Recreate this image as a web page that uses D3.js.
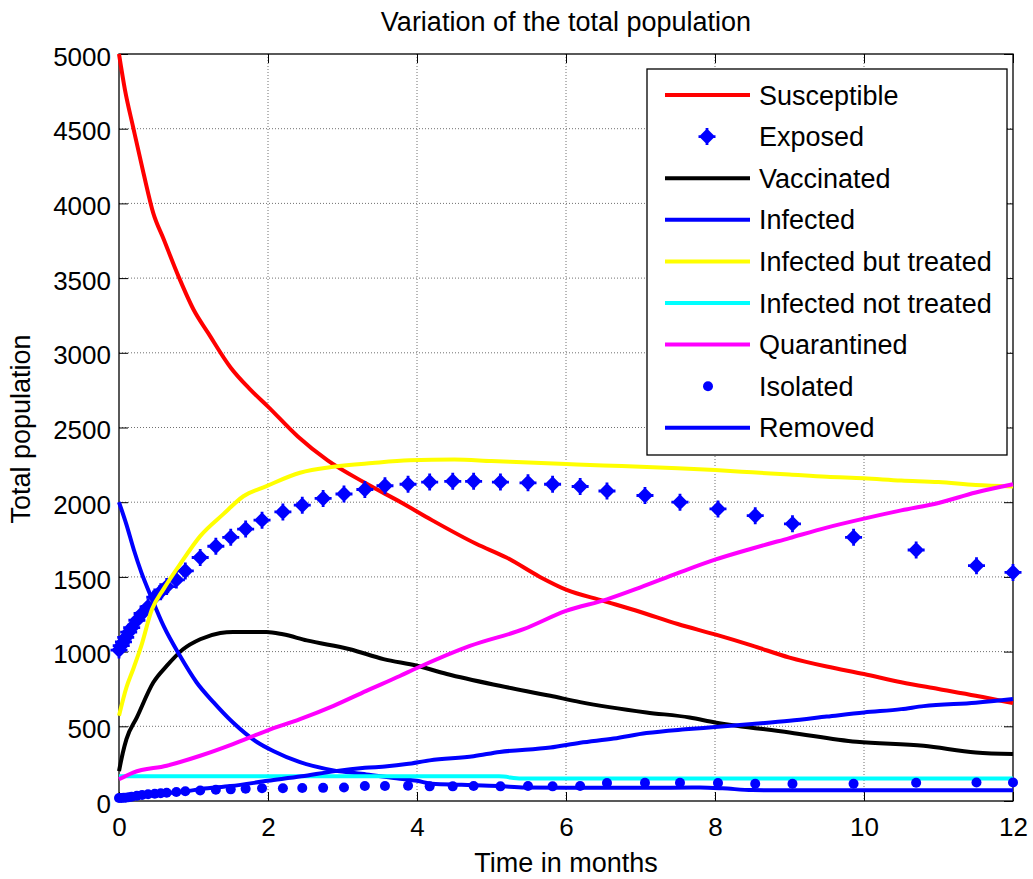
<!DOCTYPE html>
<html>
<head>
<meta charset="utf-8">
<script src="https://cdn.jsdelivr.net/npm/d3@7"></script>
<style>
  body { margin: 0; background: #fff; }
  svg { display: block; background: #fff; }
  text { font-family: Arial, "Liberation Sans", Helvetica, sans-serif; fill: #000; }
</style>
</head>
<body>
<svg id="chart" width="1033" height="879"></svg>
<script>
// ---- Data: [month, population] pairs per compartment ----
const susceptible = [[0,5000],[0.08,4760],[0.19,4510],[0.33,4200],[0.46,3935],[0.6,3760],[0.8,3510],[1.0,3290],[1.2,3130],[1.5,2900],[1.75,2760],[2.0,2640],[2.4,2440],[2.8,2280],[3.3,2130],[3.8,1995],[4.2,1880],[4.8,1720],[5.2,1630],[5.65,1500],[6.0,1415],[6.5,1340],[7.0,1265],[7.5,1185],[8.0,1115],[8.5,1040],[9.0,960],[9.5,900],[10.0,850],[10.5,795],[11.0,750],[11.5,705],[12.0,655]];

const vaccinated = [[0,200],[0.05,320],[0.1,414],[0.24,560],[0.46,793],[0.64,904],[0.86,1016],[1.09,1083],[1.36,1125],[1.53,1132],[1.98,1132],[2.2,1116],[2.52,1075],[3.1,1016],[3.55,950],[4.0,905],[4.4,850],[5.11,771],[5.79,704],[6.19,662],[7.08,593],[7.66,559],[8.0,526],[9.0,459],[9.9,396],[10.8,370],[11.5,325],[12,314]];

const infected = [[0,2000],[0.1,1850],[0.2,1680],[0.3,1530],[0.42,1380],[0.6,1170],[0.82,970],[1.04,795],[1.27,660],[1.53,525],[1.85,395],[2.07,335],[2.43,260],[2.88,205],[3.32,178],[3.77,148],[4.0,135],[4.2,115],[4.6,108],[5.1,100],[5.45,90],[6.0,88],[7.0,88],[7.8,90],[8.1,85],[8.5,73],[9.0,72],[10,72],[11,72],[12,72]];

const infectedTreated = [[0,570],[0.1,760],[0.19,882],[0.3,1040],[0.44,1280],[0.6,1420],[0.84,1600],[1.09,1773],[1.4,1920],[1.67,2040],[1.98,2108],[2.43,2197],[2.88,2237],[3.4,2262],[3.9,2280],[4.5,2285],[5.0,2275],[5.5,2265],[6.0,2255],[6.5,2245],[7.0,2238],[7.5,2228],[8.0,2215],[8.5,2200],[9.0,2185],[9.5,2170],[10,2160],[10.5,2145],[11,2135],[11.5,2115],[12,2105]];

const infectedNotTreated = [[0,165],[5.1,165],[5.4,150],[12,150]];

const quarantined = [[0,145],[0.19,190],[0.64,236],[1.09,303],[1.53,381],[1.98,470],[2.43,548],[2.88,637],[3.32,737],[3.77,837],[4.0,890],[4.71,1038],[5.43,1150],[6.0,1272],[6.55,1350],[7.0,1430],[7.5,1525],[8.0,1615],[8.5,1690],[9.0,1760],[9.5,1830],[10,1890],[10.5,1945],[11,1995],[11.5,2065],[12,2120]];

const removed = [[0,20],[0.3,35],[0.6,50],[0.9,65],[1.1,80],[1.5,100],[2.0,135],[2.45,165],[2.9,200],[3.3,222],[3.6,232],[3.86,247],[4.17,272],[4.76,300],[5.11,328],[5.79,358],[6.19,390],[6.64,418],[7.08,455],[7.6,480],[8.0,495],[8.5,515],[9.0,537],[9.5,565],[10.0,593],[10.5,615],[10.8,635],[11.5,658],[12,682]];

// Solver output times shared by the marker-only series
const solverMonths = [0,0.03,0.06,0.09,0.13,0.17,0.24,0.31,0.39,0.48,0.56,0.64,0.77,0.89,1.09,1.3,1.5,1.7,1.92,2.2,2.46,2.74,3.02,3.3,3.57,3.88,4.17,4.48,4.76,5.12,5.49,5.82,6.19,6.55,7.06,7.53,8.04,8.54,9.04,9.86,10.7,11.51,12];
const exposed = [1010,1040,1065,1095,1130,1160,1210,1255,1300,1365,1400,1435,1480,1540,1630,1705,1765,1820,1880,1935,1980,2025,2055,2085,2110,2120,2135,2140,2140,2135,2130,2120,2105,2075,2045,2000,1955,1910,1855,1765,1680,1575,1530];
const isolated = [20,20,22,22,25,28,35,40,45,48,52,55,60,65,70,75,78,82,85,85,87,88,90,100,100,102,98,98,100,98,100,98,100,120,122,122,120,115,116,115,122,124,124];

const xTicks = [0,2,4,6,8,10,12];
const yTicks = [0,500,1000,1500,2000,2500,3000,3500,4000,4500,5000];
const legendLabels = ["Susceptible","Exposed","Vaccinated","Infected","Infected but treated","Infected not treated","Quarantined","Isolated","Removed"];

// ---- Layout ----
const svg = d3.select("#chart");
const plotL = 119, plotR = 1013, plotT = 54, plotB = 801;
const x = d3.scaleLinear().domain([0, 12]).range([plotL, plotR]);
const y = d3.scaleLinear().domain([0, 5000]).range([plotB, plotT]);

// Grid (dotted)
const grid = svg.append("g").attr("stroke", "#707070").attr("stroke-width", 1).attr("stroke-dasharray", "1,2");
grid.selectAll(".gx").data(xTicks.slice(1, -1)).join("line")
  .attr("x1", d => x(d)).attr("x2", d => x(d)).attr("y1", plotT).attr("y2", plotB);
grid.selectAll(".gy").data(yTicks.slice(1, -1)).join("line")
  .attr("x1", plotL).attr("x2", plotR).attr("y1", d => y(d)).attr("y2", d => y(d));

// Axes with inward ticks
const tickLen = 9;
const fmt = d3.format("d");
const axL = svg.append("g").attr("transform", `translate(${plotL},0)`)
  .call(d3.axisLeft(y).tickValues(yTicks).tickFormat(fmt).tickSizeInner(-tickLen).tickSizeOuter(0).tickPadding(8));
const axB = svg.append("g").attr("transform", `translate(0,${plotB})`)
  .call(d3.axisBottom(x).tickValues(xTicks).tickFormat(fmt).tickSizeInner(-tickLen).tickSizeOuter(0).tickPadding(17));
const axR = svg.append("g").attr("transform", `translate(${plotR},0)`)
  .call(d3.axisRight(y).tickValues(yTicks).tickSizeInner(-tickLen).tickSizeOuter(0).tickFormat(""));
const axT = svg.append("g").attr("transform", `translate(0,${plotT})`)
  .call(d3.axisTop(x).tickValues(xTicks).tickSizeInner(-tickLen).tickSizeOuter(0).tickFormat(""));
[axL, axB, axR, axT].forEach(a => {
  a.select(".domain").remove();
  a.selectAll(".tick line").attr("stroke", "#000").attr("stroke-width", 1);
  a.selectAll("text").attr("font-size", 26).attr("fill", "#000")
    .attr("font-family", 'Arial, "Liberation Sans", Helvetica, sans-serif');
});
axL.selectAll("text").attr("dy", "0.43em");

svg.append("rect").attr("x", plotL).attr("y", plotT).attr("width", plotR - plotL).attr("height", plotB - plotT)
  .attr("fill", "none").attr("stroke", "#000").attr("stroke-width", 1.3);

// Titles
svg.append("text").attr("x", (plotL + plotR) / 2).attr("y", 31).attr("text-anchor", "middle")
  .attr("font-size", 27).text("Variation of the total population");
svg.append("text").attr("x", (plotL + plotR) / 2).attr("y", 872).attr("text-anchor", "middle")
  .attr("font-size", 27).text("Time in months");
svg.append("text").attr("transform", "translate(30,429) rotate(-90)").attr("text-anchor", "middle")
  .attr("font-size", 27).text("Total population");

// ---- Series ----
const line = d3.line().x(d => x(d[0])).y(d => y(d[1])).curve(d3.curveMonotoneX);
const lineW = 4;
const plusDiamond = (cx, cy) =>
  `M${cx},${cy - 6}L${cx + 6},${cy}L${cx},${cy + 6}L${cx - 6},${cy}Z` +
  `M${cx - 8.5},${cy}H${cx + 8.5}M${cx},${cy - 8.5}V${cy + 8.5}`;

function drawLine(data, color) {
  svg.append("path").datum(data).attr("d", line).attr("fill", "none")
    .attr("stroke", color).attr("stroke-width", lineW).attr("stroke-linejoin", "round");
}

drawLine(susceptible, "#ff0000");
svg.append("g").selectAll("path").data(solverMonths.map((t, i) => [t, exposed[i]])).join("path")
  .attr("d", d => plusDiamond(x(d[0]), y(d[1])))
  .attr("fill", "#0000ff").attr("stroke", "#0000ff").attr("stroke-width", 2.8);
drawLine(vaccinated, "#000000");
drawLine(infected, "#0000ff");
drawLine(infectedTreated, "#ffff00");
drawLine(infectedNotTreated, "#00ffff");
drawLine(quarantined, "#ff00ff");
svg.append("g").selectAll("circle").data(solverMonths.map((t, i) => [t, isolated[i]])).join("circle")
  .attr("cx", d => x(d[0])).attr("cy", d => y(d[1])).attr("r", 5).attr("fill", "#0000ff");
drawLine(removed, "#0000ff");

// ---- Legend ----
const legendStyles = [
  {type: "line", color: "#ff0000"}, {type: "exposed", color: "#0000ff"}, {type: "line", color: "#000000"},
  {type: "line", color: "#0000ff"}, {type: "line", color: "#ffff00"}, {type: "line", color: "#00ffff"},
  {type: "line", color: "#ff00ff"}, {type: "dot", color: "#0000ff"}, {type: "line", color: "#0000ff"}
];
const lg = svg.append("g");
lg.append("rect").attr("x", 647).attr("y", 69).attr("width", 360).attr("height", 386)
  .attr("fill", "#fff").attr("stroke", "#000").attr("stroke-width", 1.3);
const rowY = i => 95 + i * 41.6;
legendLabels.forEach((lab, i) => {
  const s = legendStyles[i], cy = rowY(i);
  if (s.type === "line") {
    lg.append("line").attr("x1", 665).attr("x2", 750).attr("y1", cy).attr("y2", cy)
      .attr("stroke", s.color).attr("stroke-width", lineW);
  } else if (s.type === "exposed") {
    lg.append("path").attr("d", plusDiamond(707, cy)).attr("fill", s.color).attr("stroke", s.color).attr("stroke-width", 2.8);
  } else {
    lg.append("circle").attr("cx", 708).attr("cy", cy).attr("r", 5).attr("fill", s.color);
  }
  lg.append("text").attr("x", 759).attr("y", cy + 9.5).attr("font-size", 27).text(lab);
});
</script>
</body>
</html>
